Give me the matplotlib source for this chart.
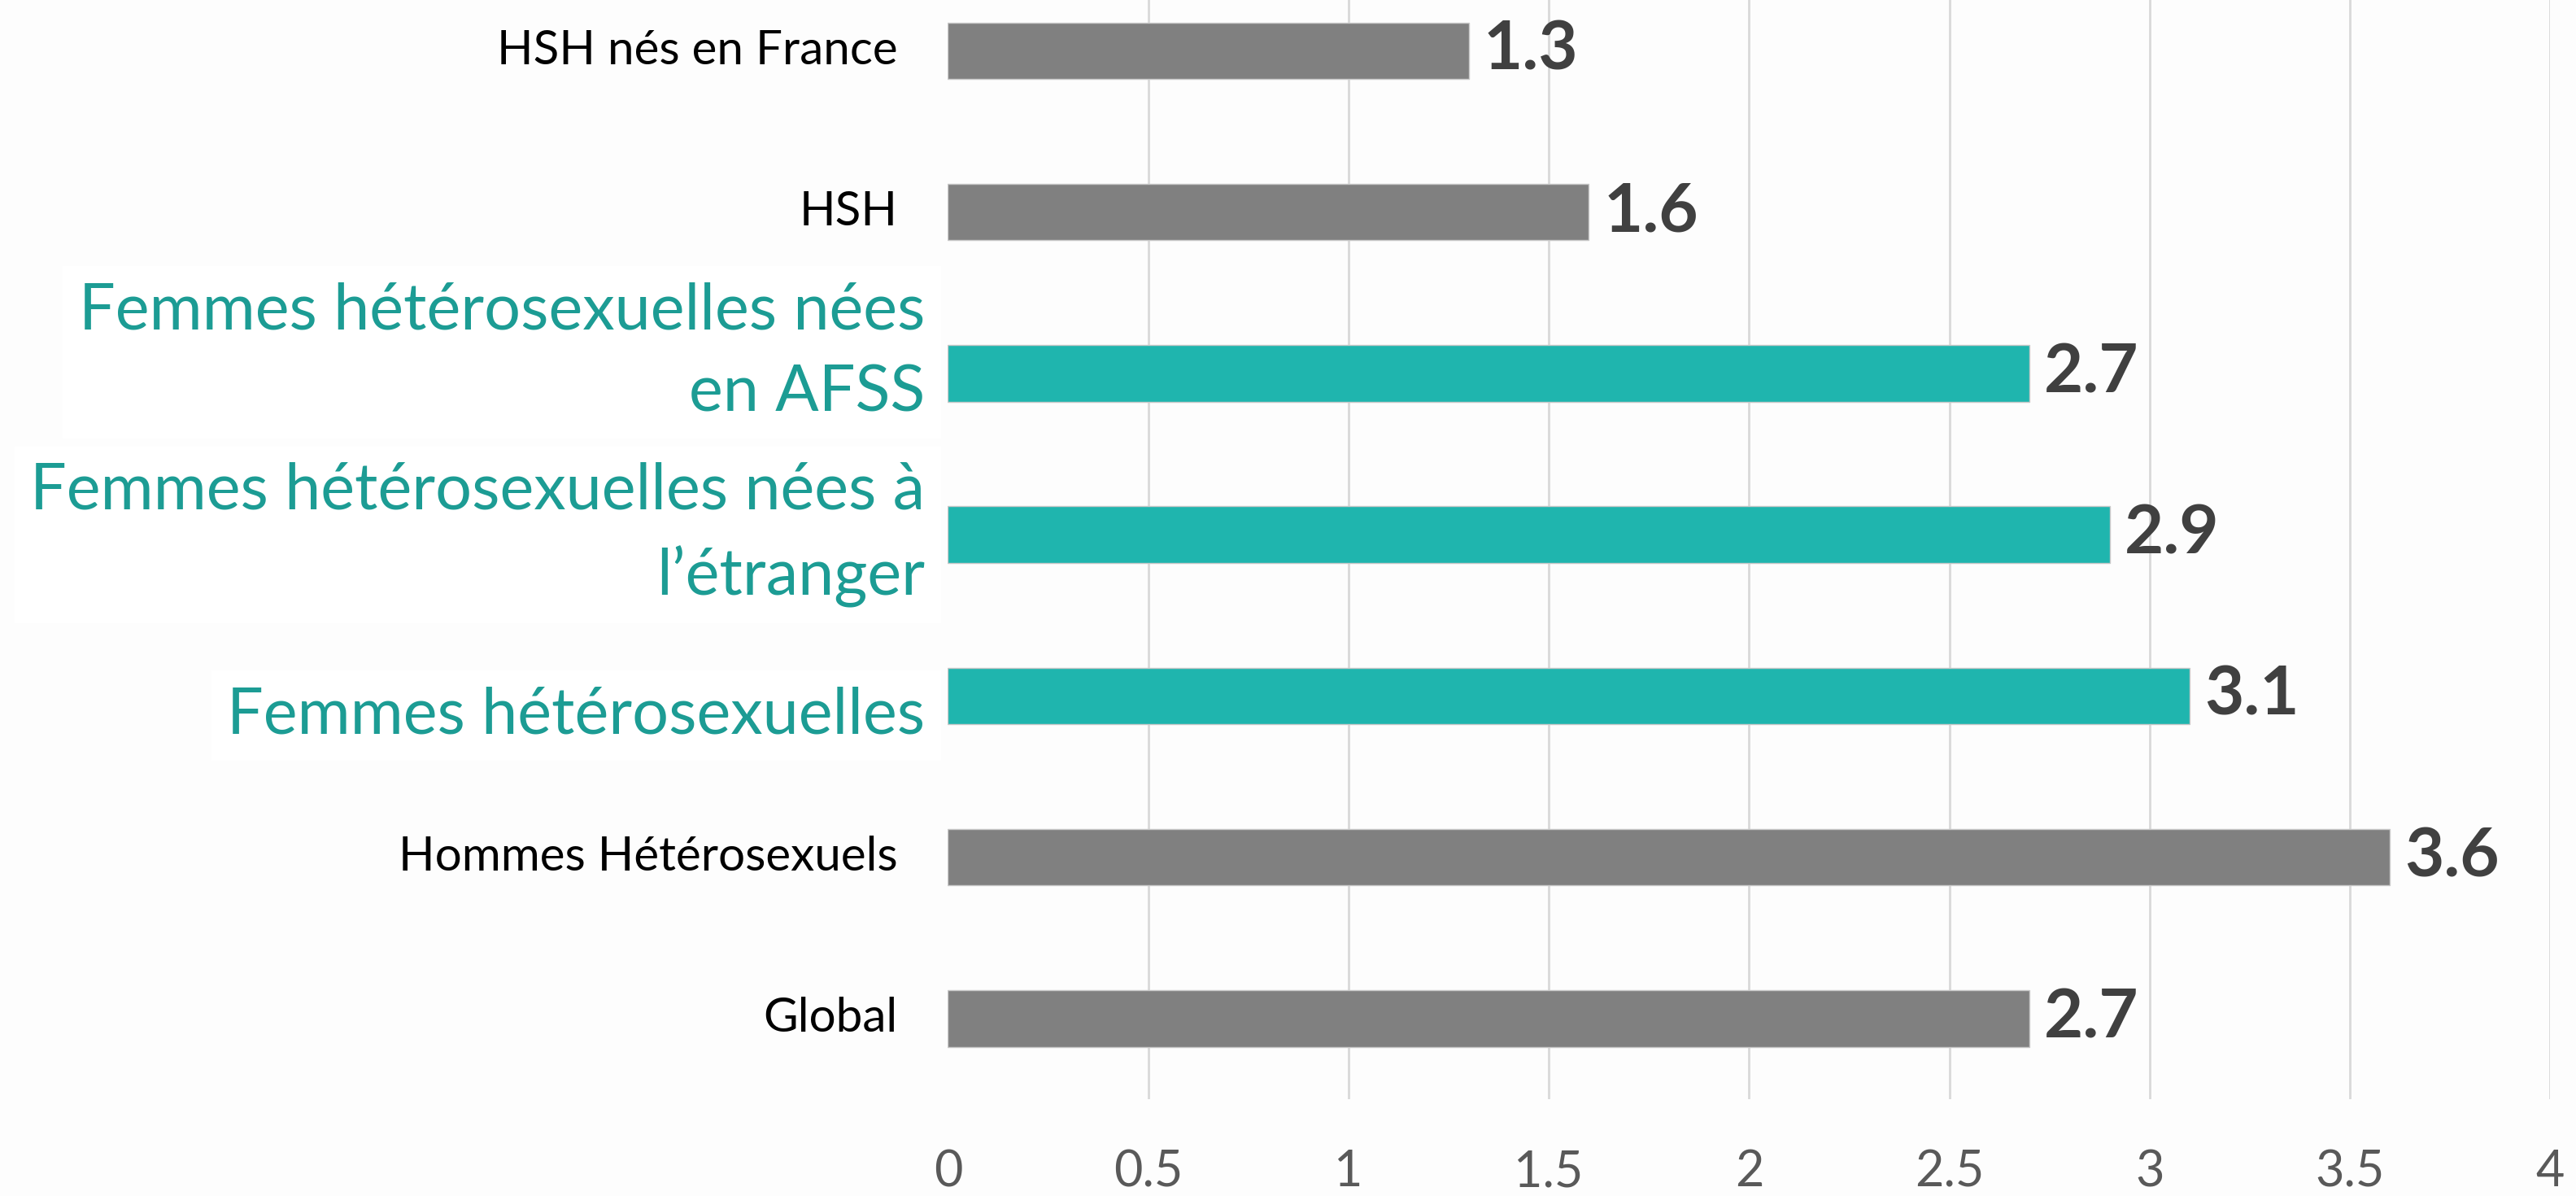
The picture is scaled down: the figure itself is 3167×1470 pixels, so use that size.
import matplotlib
matplotlib.use("Agg")
import matplotlib.pyplot as plt
import matplotlib.transforms as mtransforms

categories = ["HSH nés en France", "HSH",
              "Femmes hétérosexuelles nées\nen AFSS",
              "Femmes hétérosexuelles nées à\nl’étranger",
              "Femmes hétérosexuelles",
              "Hommes Hétérosexuels", "Global"]
values = [1.3, 1.6, 2.7, 2.9, 3.1, 3.6, 2.7]
highlight = [False, False, True, True, True, False, False]
xticks = [0, 0.5, 1, 1.5, 2, 2.5, 3, 3.5, 4]
xtick_labels = ["0", "0.5", "1", "1.5", "2", "2.5", "3", "3.5", "4"]

# vertical nudges (pixels) of the category labels
label_dy = [0, 0, 26, 0, -24, 0, 0]

GRAY = "#808080"
TEAL = "#1FB5AE"
TEAL_TXT = "#1C9C94"
FONT = ["Lato", "DejaVu Sans"]
plt.rcParams["font.family"] = FONT

fig = plt.figure(figsize=(31.67, 14.70), dpi=100, facecolor="#fdfdfd")
ax = fig.add_axes([0.368, 0.081, 0.622, 0.944])
ax.set_facecolor("#fdfdfd")

ypos = list(range(len(categories)))
colors = [TEAL if h else GRAY for h in highlight]
ax.barh(ypos, values, height=0.35, color=colors, edgecolor="#c8c8c8",
        linewidth=1.0, zorder=3)
ax.set_ylim(len(categories) - 0.5, -0.5)
ax.set_xlim(0, 4)

ax.set_xticks(xticks)
ax.set_xticklabels(xtick_labels)
ax.tick_params(axis="x", length=0, pad=44, labelsize=44, labelcolor="#595959")
ax.set_yticks([])
ax.grid(axis="x", color="#d9d9d9", linewidth=2, zorder=0)
ax.xaxis.get_gridlines()[0].set_visible(False)
for s in ax.spines.values():
    s.set_visible(False)

# category labels
trans = mtransforms.blended_transform_factory(ax.transAxes, ax.transData)
for y, lab, h, dy in zip(ypos, categories, highlight, label_dy):
    if h:
        off = mtransforms.offset_copy(trans, fig=fig, x=-28, y=dy, units="dots")
        ax.text(0, y, lab, transform=off, ha="right", va="center",
                fontsize=57, color=TEAL_TXT, linespacing=1.5,
                bbox=dict(boxstyle="square,pad=0.25", fc="white", ec="none"))
    else:
        off = mtransforms.offset_copy(trans, fig=fig, x=-62, y=dy, units="dots")
        ax.text(0, y, lab, transform=off, ha="right", va="center",
                fontsize=42, color="#000000")

# value labels
for y, v in zip(ypos, values):
    ax.annotate(f"{v:.1f}", xy=(v, y), xytext=(18, 0), textcoords="offset pixels",
                ha="left", va="center", fontsize=60, fontweight="bold",
                color="#404040")

fig.savefig("out.png", dpi=100, facecolor=fig.get_facecolor())
